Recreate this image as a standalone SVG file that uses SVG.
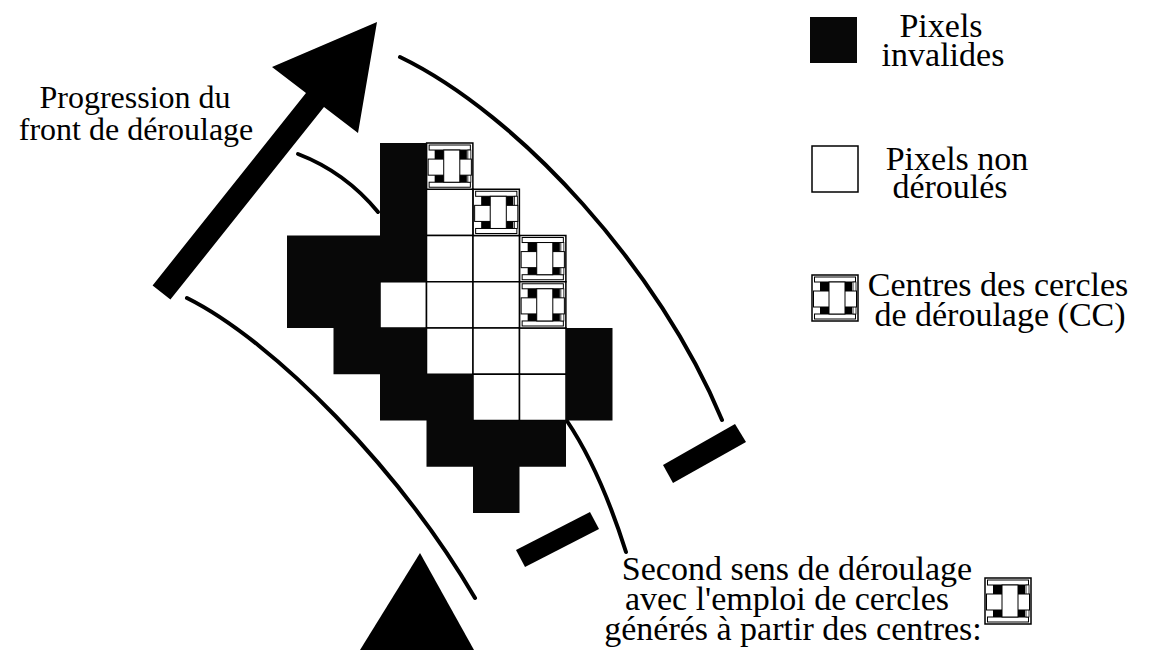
<svg xmlns="http://www.w3.org/2000/svg" xmlns:xlink="http://www.w3.org/1999/xlink" width="1154" height="650" viewBox="0 0 1154 650">
<style>
  .t { font-family: "Liberation Serif", "Times New Roman", serif; fill: #000; text-anchor: middle; }
  .lg { font-size: 34px; }
  .lf { font-size: 32px; }
  .blk { fill: #080808; }
  .wh { fill: #fff; stroke: #000; stroke-width: 1.5; }
  .crv { fill: none; stroke: #000; stroke-width: 4; stroke-linecap: round; }
</style>
<defs>
  <symbol id="cc" viewBox="0 0 46 46" overflow="visible">
    <rect x="0" y="0" width="46" height="46" fill="#fff" stroke="#000" stroke-width="1.5"/>
    <rect x="2.5" y="2" width="41" height="5" fill="#fff" stroke="#000" stroke-width="1"/>
    <rect x="2.5" y="39" width="41" height="5" fill="#fff" stroke="#000" stroke-width="1"/>
    <rect x="41" y="7" width="3" height="32" fill="#fff" stroke="#000" stroke-width="0.8"/>
    <rect x="8" y="7" width="32" height="32" fill="#000"/>
    <rect x="1.5" y="16" width="43" height="16" fill="#fff" stroke="#000" stroke-width="1"/>
    <rect x="17" y="7" width="16" height="32" fill="#fff" stroke="#000" stroke-width="1"/>
  </symbol>
</defs>

<g id="arrow-front">
  <polygon points="152.6,285.4 306,93 272,67 377,22 358,133 324,107 170.4,299.6" fill="#000"/>
</g>
<g id="label-front">
  <text class="t lf" x="135" y="108">Progression du</text>
  <text class="t lf" x="136" y="140">front de déroulage</text>
</g>

<g id="triangle-start">
  <polygon points="420,553 360,650 474,650" fill="#000"/>
</g>

<g id="connectors">
  <path class="crv" d="M400,57 C520,115 660,270 722,420"/>
  <path class="crv" d="M298,154 Q345,172 378,212"/>
  <path class="crv" d="M187,298 C275,342 400,470 475,598"/>
  <path class="crv" stroke-width="3" d="M567,421 Q600,470 626,552"/>
  <polygon points="663,465 735,424 746,442 673,483" fill="#000"/>
  <polygon points="516,550 590,512 599,529 525,567" fill="#000"/>
</g>

<g id="grid">
  <g id="white-cells">
    <rect class="wh" x="426.5" y="189.25" width="46.5" height="46.25"/>
    <rect class="wh" x="426.5" y="235.5" width="46.5" height="46.25"/>
    <rect class="wh" x="473" y="235.5" width="46.5" height="46.25"/>
    <rect class="wh" x="380" y="281.75" width="46.5" height="46.25"/>
    <rect class="wh" x="426.5" y="281.75" width="46.5" height="46.25"/>
    <rect class="wh" x="473" y="281.75" width="46.5" height="46.25"/>
    <rect class="wh" x="426.5" y="328" width="46.5" height="46.25"/>
    <rect class="wh" x="473" y="328" width="46.5" height="46.25"/>
    <rect class="wh" x="519.5" y="328" width="46.5" height="46.25"/>
    <rect class="wh" x="473" y="374.25" width="46.5" height="46.25"/>
    <rect class="wh" x="519.5" y="374.25" width="46.5" height="46.25"/>
  </g>
  <g id="cc-cells">
    <use xlink:href="#cc" href="#cc" x="426.5" y="143" width="46.5" height="46.25"/>
    <use xlink:href="#cc" href="#cc" x="473" y="189.25" width="46.5" height="46.25"/>
    <use xlink:href="#cc" href="#cc" x="519.5" y="235.5" width="46.5" height="46.25"/>
    <use xlink:href="#cc" href="#cc" x="519.5" y="281.75" width="46.5" height="46.25"/>
  </g>
  <g id="invalid-cells">
    <path class="blk" d="M380,143 H426.5 V281.75 H380 V328 H426.5 V374.25 H473 V420.5 H566 V466.75 H519.5 V513 H473 V466.75 H426.5 V420.5 H380 V374.25 H333.5 V328 H287 V235.5 H380 Z"/>
    <rect class="blk" x="566" y="328" width="46.5" height="92.5"/>
  </g>
</g>

<g id="legend-invalid">
  <rect class="blk" x="810" y="17" width="47" height="46"/>
  <text class="t lg" x="941" y="37">Pixels</text>
  <text class="t lg" x="943" y="66">invalides</text>
</g>
<g id="legend-nonderoules">
  <rect class="wh" x="812" y="146" width="46" height="46"/>
  <text class="t lg" x="957" y="170">Pixels non</text>
  <text class="t lg" x="950" y="198">déroulés</text>
</g>
<g id="legend-cc">
  <use xlink:href="#cc" href="#cc" x="812" y="275" width="46" height="46"/>
  <text class="t lg" x="998" y="296">Centres des cercles</text>
  <text class="t lg" x="1000" y="326">de déroulage (CC)</text>
</g>

<g id="label-second">
  <text class="t lg" x="797" y="580">Second sens de déroulage</text>
  <text class="t lg" x="787" y="610">avec l'emploi de cercles</text>
  <text class="t lg" x="793" y="640">générés à partir des centres:</text>
  <use xlink:href="#cc" href="#cc" x="985" y="578" width="46" height="46"/>
</g>
</svg>
